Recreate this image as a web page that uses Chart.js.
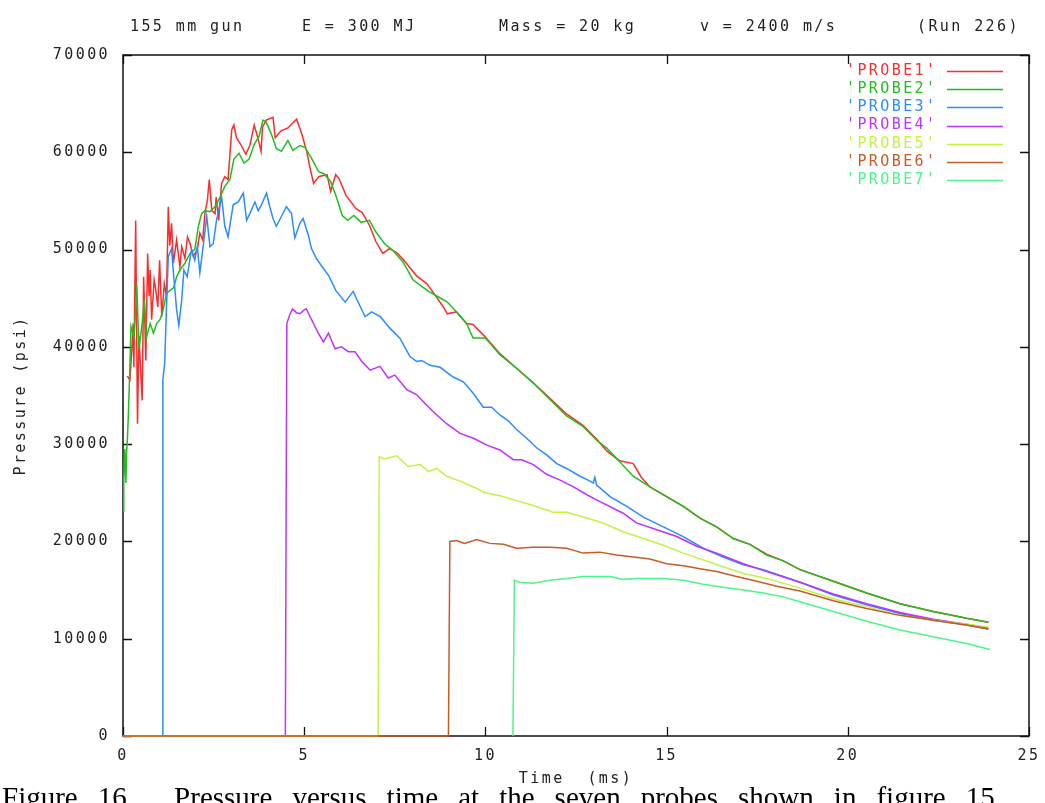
<!DOCTYPE html>
<html>
<head>
<meta charset="utf-8">
<script src="https://cdn.jsdelivr.net/npm/chart.js@4.4.1/dist/chart.umd.min.js"></script>
<style>
html,body{margin:0;padding:0;background:#fff;}
#wrap{width:1045px;height:803px;overflow:hidden;}
</style>
</head>
<body>
<div id="wrap"><canvas id="c" width="1045" height="803"></canvas></div>
<script>
// ---- data (time in ms, pressure in psi) ----
const xTicks = [0, 5, 10, 15, 20, 25];
const yTicks = [0, 10000, 20000, 30000, 40000, 50000, 60000, 70000];
const titleParts = ['155 mm gun', 'E = 300 MJ', 'Mass = 20 kg', 'v = 2400 m/s', '(Run 226)'];
const seriesNames = ["'PROBE1'", "'PROBE2'", "'PROBE3'", "'PROBE4'", "'PROBE5'", "'PROBE6'", "'PROBE7'"];
const seriesColors = ['#ff2a2a', '#1fbf1f', '#2a8cff', '#c030ff', '#c2f244', '#c85a26', '#4df58a'];

const probe1Time = [0.12,0.19,0.25,0.28,0.3,0.35,0.4,0.44,0.5,0.53,0.57,0.63,0.68,0.72,0.75,0.79,0.86,0.9,0.96,1.01,1.07,1.14,1.2,1.25,1.29,1.34,1.39,1.48,1.57,1.62,1.71,1.78,1.85,1.94,2.05,2.12,2.2,2.26,2.33,2.38,2.45,2.54,2.57,2.64,2.72,2.81,2.9,3.0,3.06,3.13,3.25,3.39,3.5,3.62,3.72,3.81,3.85,3.95,4.14,4.2,4.36,4.55,4.79,4.93,5.07,5.16,5.26,5.4,5.63,5.73,5.87,5.96,6.15,6.43,6.6,6.8,6.98,7.17,7.35,7.55,7.73,8.1,8.38,8.58,8.84,8.95,9.2,9.48,9.66,10.0,10.4,10.86,11.32,11.78,12.24,12.7,13.07,13.35,13.7,14.08,14.3,14.54,15.0,15.46,15.92,16.38,16.84,17.3,17.76,18.22,18.68,19.6,20.52,21.44,22.36,23.28,23.88];
const probe1Psi = [37000,36600,40000,42400,37900,53000,32100,41100,36600,34500,47200,38600,49600,45200,47900,42800,46900,46000,44100,48900,43100,46500,45200,54400,50400,52700,48600,51000,48200,50300,49100,51300,50600,49300,50000,51700,51000,53700,55100,57200,54000,53700,55400,53000,56800,57500,57200,62300,62800,61500,60800,59800,60700,62800,61500,60100,62600,63300,63600,61500,62200,62500,63400,61900,60100,58400,56800,57500,57700,56000,57700,57300,55600,54200,53800,52500,50800,49600,50100,49700,49000,47300,46500,45500,44100,43400,43600,42400,42300,41000,39300,37800,36300,34700,33100,31900,30500,29300,28300,28000,26600,25600,24600,23600,22400,21500,20300,19700,18700,18000,17100,15900,14700,13600,12800,12100,11700];

const probe2Time = [0,0.02,0.05,0.08,0.1,0.12,0.15,0.19,0.22,0.3,0.35,0.38,0.44,0.52,0.59,0.65,0.75,0.84,0.93,1.02,1.11,1.2,1.3,1.4,1.48,1.57,1.71,1.85,1.98,2.08,2.17,2.26,2.4,2.54,2.68,2.81,2.95,3.06,3.2,3.34,3.48,3.62,3.76,3.86,3.95,4.09,4.23,4.37,4.55,4.69,4.88,5.02,5.2,5.4,5.54,5.73,5.87,6.05,6.2,6.37,6.57,6.8,6.98,7.22,7.45,7.73,8.0,8.39,8.67,8.95,9.2,9.48,9.66,10.0,10.4,10.86,11.32,11.78,12.24,12.7,13.07,13.35,14.08,14.54,15.0,15.46,15.92,16.38,16.84,17.3,17.76,18.22,18.68,19.6,20.52,21.44,22.36,23.28,23.88];
const probe2Psi = [23100,26100,29500,26000,29200,30400,33200,38000,42100,41000,43800,46500,39700,42100,44800,41000,42400,41400,42400,42800,43800,45500,45800,46100,47200,47900,48600,49600,50000,52400,53700,54000,53900,54400,55400,56500,57200,59300,59900,58900,59300,60800,61700,63300,63100,61900,60400,60100,61200,60200,60700,60500,59400,58000,57800,57000,55600,53500,53000,53500,52800,53000,51800,50600,49900,48700,46900,45800,45200,44600,43600,42400,40900,40900,39200,37800,36300,34600,32900,31800,30400,29600,26700,25600,24600,23600,22400,21500,20300,19700,18600,18000,17100,15900,14700,13600,12800,12100,11700];

const probe3Time = [0,1.08,1.1,1.15,1.2,1.25,1.34,1.4,1.48,1.54,1.62,1.68,1.77,1.89,1.98,2.05,2.12,2.21,2.31,2.4,2.49,2.58,2.72,2.81,2.9,3.04,3.18,3.32,3.41,3.5,3.64,3.73,3.82,3.96,4.05,4.14,4.23,4.37,4.51,4.65,4.74,4.88,4.97,5.12,5.2,5.35,5.54,5.68,5.87,6.13,6.35,6.68,6.86,7.1,7.37,7.64,7.92,8.1,8.24,8.47,8.75,9.11,9.39,9.67,9.94,10.17,10.4,10.63,10.86,11.14,11.42,11.69,11.97,12.24,12.61,12.89,12.98,13.02,13.07,13.44,13.9,14.36,14.91,15.46,16.01,16.56,17.12,17.67,18.22,18.68,19.6,20.52,21.44,22.36,23.28,23.88];
const probe3Psi = [0,0,36600,38300,44100,49300,50100,47200,43800,42200,44800,47900,47200,50000,48900,50300,47600,50300,53400,50300,50600,53000,55400,52400,51300,54600,54900,55800,53000,53700,54900,54000,54600,55800,54400,53200,52400,53400,54400,53700,51200,52700,53200,51400,50100,49000,48000,47300,45800,44600,45700,43100,43600,43100,41900,40900,39000,38500,38600,38100,37900,36900,36400,35200,33800,33800,33000,32400,31500,30600,29600,28900,28000,27500,26700,26200,26000,26600,25800,24600,23600,22500,21500,20500,19300,18400,17600,17100,16400,15800,14500,13500,12600,11900,11400,11000];

const probe4Time = [0,4.48,4.52,4.6,4.68,4.79,4.88,5.0,5.06,5.15,5.39,5.53,5.67,5.85,6.03,6.22,6.4,6.59,6.82,7.09,7.32,7.5,7.83,8.1,8.38,8.66,8.93,9.3,9.67,10.04,10.4,10.77,11.0,11.32,11.69,12.06,12.43,12.8,13.16,13.8,14.17,14.73,15.28,15.83,16.38,17.12,17.76,18.68,19.6,20.52,21.44,22.36,23.28,23.88];
const probe4Psi = [0,0,42400,43300,43900,43500,43400,43800,43900,43200,41400,40500,41400,39800,40000,39500,39500,38500,37600,38000,36800,37100,35600,35100,34000,33000,32100,31100,30600,29900,29400,28400,28400,27900,26900,26300,25600,24800,24100,22900,21900,21200,20500,19500,18800,17700,16900,15800,14600,13600,12700,12000,11500,11100];

const probe5Time = [0,7.04,7.07,7.2,7.35,7.55,7.87,8.2,8.43,8.66,8.93,9.3,9.67,9.99,10.4,10.77,11.32,11.87,12.24,12.8,13.25,13.8,14.36,14.91,15.46,16.01,16.56,17.12,17.76,18.68,19.6,20.52,21.44,22.36,23.28,23.88];
const probe5Psi = [0,0,28700,28500,28600,28800,27700,27900,27200,27500,26700,26200,25600,25000,24700,24300,23700,23000,23000,22400,21900,21000,20300,19600,18800,18100,17400,16700,16200,15200,14100,13300,12400,11900,11500,11200];

const probe6Time = [0,8.98,9.02,9.2,9.42,9.76,10.12,10.5,10.86,11.32,11.78,12.24,12.7,13.16,13.62,14.08,14.54,15.0,15.46,15.92,16.38,16.93,17.49,18.04,18.68,19.6,20.52,21.44,22.36,23.28,23.88];
const probe6Psi = [0,0,20000,20100,19800,20200,19800,19700,19300,19400,19400,19300,18800,18900,18600,18400,18200,17700,17500,17200,16900,16400,15900,15400,14900,13900,13100,12400,11900,11400,11000];

const probe7Time = [10.76,10.8,10.95,11.32,11.78,12.24,12.7,13.44,13.8,14.17,14.91,15.46,16.01,16.56,17.12,17.67,18.22,18.68,19.6,20.52,21.44,22.36,23.28,23.92];
const probe7Psi = [0,16000,15800,15700,16000,16200,16400,16400,16100,16200,16200,16000,15600,15300,15000,14700,14300,13800,12800,11800,10900,10200,9500,8900];

const captionText = 'Figure 16.  Pressure versus time at the seven probes shown in figure 15.';

// ---- build ----
const times = [probe1Time, probe2Time, probe3Time, probe4Time, probe5Time, probe6Time, probe7Time];
const psis = [probe1Psi, probe2Psi, probe3Psi, probe4Psi, probe5Psi, probe6Psi, probe7Psi];
const MONO = '"DejaVu Sans Mono", "Liberation Mono", monospace';
const SPACING = '2.4px';
const FSIZE = 15;

const datasets = seriesNames.map((name, i) => ({
  label: name,
  data: times[i].map((t, k) => ({x: t, y: psis[i][k]})),
  borderColor: seriesColors[i],
  backgroundColor: seriesColors[i],
  borderWidth: 1.5,
  pointRadius: 0,
  tension: 0,
  fill: false,
  clip: false,
  order: seriesNames.length - i
}));

function setSpacing(chart) { chart.ctx.letterSpacing = SPACING; }

const decorPlugin = {
  id: 'decor',
  afterInit: setSpacing,
  beforeUpdate: setSpacing,
  beforeLayout: setSpacing,
  beforeDraw: setSpacing,
  beforeDatasetsDraw(chart) {
    const {ctx, chartArea: a, scales: {x, y}} = chart;
    ctx.save();
    ctx.strokeStyle = '#111';
    ctx.lineWidth = 1.5;
    ctx.strokeRect(a.left, a.top, a.right - a.left, a.bottom - a.top);
    ctx.lineWidth = 1.3;
    ctx.beginPath();
    x.ticks.forEach(t => {
      const px = Math.round(x.getPixelForValue(t.value)) + 0.5;
      ctx.moveTo(px, a.bottom); ctx.lineTo(px, a.bottom - 9);
      ctx.moveTo(px, a.top); ctx.lineTo(px, a.top + 9);
    });
    y.ticks.forEach(t => {
      const py = Math.round(y.getPixelForValue(t.value)) + 0.5;
      ctx.moveTo(a.left, py); ctx.lineTo(a.left + 9, py);
      ctx.moveTo(a.right, py); ctx.lineTo(a.right - 9, py);
    });
    ctx.stroke();
    ctx.restore();
  },
  afterDraw(chart) {
    const ctx = chart.ctx;
    ctx.save();
    ctx.letterSpacing = SPACING;
    ctx.font = FSIZE + 'px ' + MONO;
    ctx.textBaseline = 'middle';
    ctx.textAlign = 'left';
    ctx.fillStyle = '#222';
    // title
    const titleX = [130, 302, 499, 700, 917];
    titleParts.forEach((s, i) => ctx.fillText(s, titleX[i], 27));
    // legend
    seriesNames.forEach((s, i) => {
      const yy = 71 + i * 18.2;
      ctx.fillStyle = seriesColors[i];
      ctx.fillText(s, 846, yy);
      ctx.strokeStyle = seriesColors[i];
      ctx.lineWidth = 1.5;
      ctx.beginPath();
      ctx.moveTo(947, Math.round(yy) + 0.5);
      ctx.lineTo(1003, Math.round(yy) + 0.5);
      ctx.stroke();
    });
    // caption (cut by the bottom edge, as in the source figure)
    ctx.letterSpacing = '0px';
    ctx.fillStyle = '#000';
    ctx.font = '29px "Liberation Serif", "Times New Roman", serif';
    ctx.textBaseline = 'alphabetic';
    const natural = ctx.measureText(captionText).width;
    const gaps = captionText.split(' ').length - 1;
    const extra = Math.max(0, (1000 - natural) / gaps);
    ctx.wordSpacing = extra.toFixed(2) + 'px';
    ctx.fillText(captionText, 2, 807);
    ctx.restore();
  }
};

new Chart(document.getElementById('c'), {
  type: 'line',
  data: {datasets},
  plugins: [decorPlugin],
  options: {
    responsive: false,
    devicePixelRatio: 1,
    animation: false,
    events: [],
    layout: {padding: {top: 55, right: 16, bottom: 0, left: 0}},
    plugins: {legend: {display: false}, tooltip: {enabled: false}, title: {display: false}},
    scales: {
      x: {
        type: 'linear',
        min: 0, max: 25,
        afterBuildTicks: s => { s.ticks = xTicks.map(v => ({value: v})); },
        afterFit: s => { s.height = 67; s.paddingLeft = 0; s.paddingRight = 0; },
        grid: {display: false, drawTicks: false},
        border: {display: false},
        ticks: {padding: 11, color: '#222', font: {family: MONO, size: FSIZE}, callback: v => String(v), maxRotation: 0},
        title: {display: true, text: 'Time  (ms)', color: '#222', font: {family: MONO, size: FSIZE}, padding: {top: 0, bottom: 15}}
      },
      y: {
        type: 'linear',
        min: 0, max: 70000,
        afterBuildTicks: s => { s.ticks = yTicks.map(v => ({value: v})); },
        afterFit: s => { s.width = 123; s.paddingTop = 0; s.paddingBottom = 0; },
        grid: {display: false, drawTicks: false},
        border: {display: false},
        ticks: {padding: 13, color: '#222', font: {family: MONO, size: FSIZE}, callback: v => String(v)},
        title: {display: true, text: 'Pressure (psi)', color: '#222', font: {family: MONO, size: FSIZE}, padding: {top: 12, bottom: 0}}
      }
    }
  }
});
</script>
</body>
</html>
